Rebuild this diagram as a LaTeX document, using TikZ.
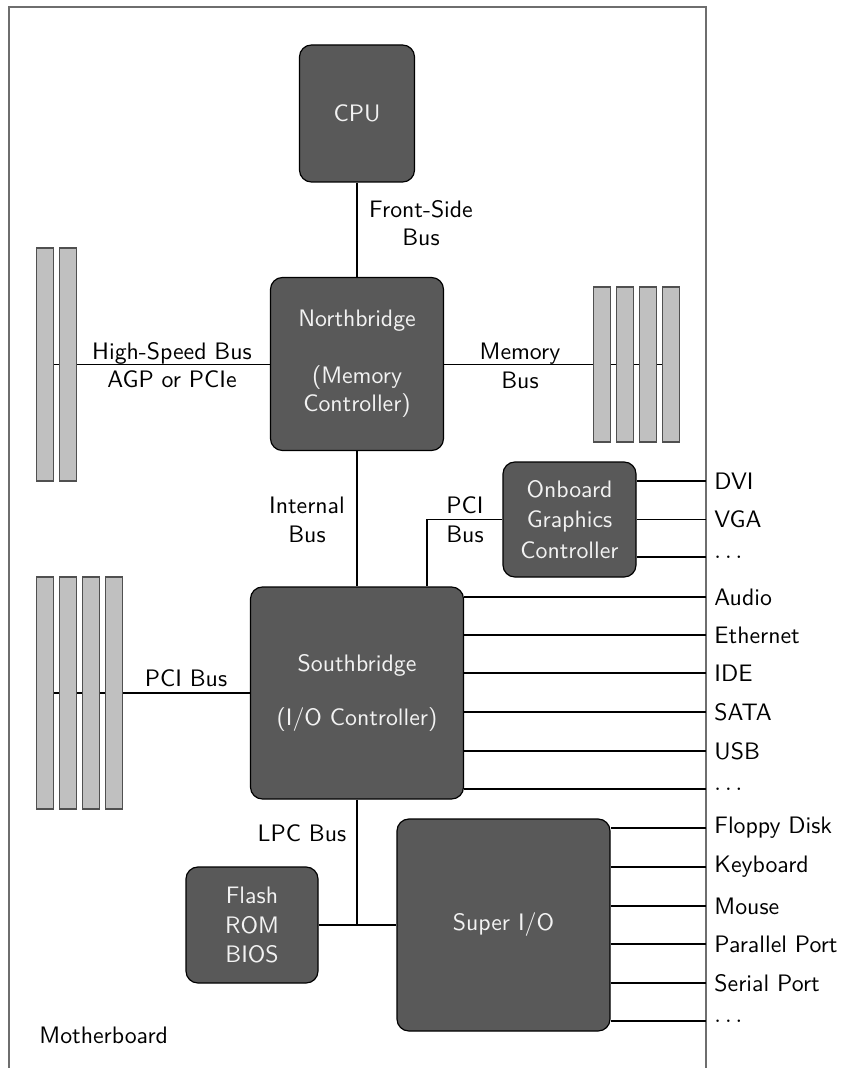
\documentclass[tikz,border=0pt]{standalone}
\usetikzlibrary{backgrounds}
\definecolor{chipgray}{HTML}{595959}
\definecolor{chiptext}{HTML}{F2F2F2}
\definecolor{slotgray}{HTML}{C0C0C0}
\definecolor{slotborder}{HTML}{505050}
\definecolor{framegray}{HTML}{6E6E6E}
\begin{document}
\begin{tikzpicture}[x=0.42pt,y=-0.42pt,
  font=\sffamily,
  chip/.style 2 args={draw=black, line width=0.5pt, fill=chipgray, rounded corners=5pt,
    text=chiptext, align=center, minimum width=#1*0.42pt, minimum height=#2*0.42pt, inner sep=0pt,
    font=\sffamily\fontsize{10}{12.8}\selectfont},
  slot/.style={draw=slotborder, line width=0.5pt, fill=slotgray, minimum width=16.5*0.42pt,
    minimum height=#1*0.42pt, inner sep=0pt},
  bus/.style={draw=black, line width=0.45pt},
  lbl/.style={align=center, inner sep=0pt, text=black},
  port/.style={anchor=west, inner sep=0pt, text=black},
  frameline/.style={draw=framegray, line width=0.55pt}]
\useasboundingbox (0,0) rectangle (845,1068);

% motherboard frame
\draw[frameline] (9,1068) -- (9,7) -- (706,7) -- (706,1068);
\node[port] (mb) at (39,1035) {Motherboard};

% chips
\node[chip={115}{137}] (cpu) at (357,113.5) {CPU};
\node[chip={173}{173}] (nb) at (357,364) {Northbridge\\[11pt](Memory\\[-1pt]Controller)};
\node[chip={133}{115}] (ogc) at (569.5,519.5) {Onboard\\Graphics\\Controller};
\node[chip={213}{212}] (sb) at (357,693) {Southbridge\\[10pt](I/O Controller)};
\node[chip={132}{116}] (flash) at (252,925) {Flash\\[-0.5pt]ROM\\[-0.5pt]BIOS};
\node[chip={213}{212}] (sio) at (503.5,925) {Super I/O};

% AGP / PCIe slots
\node[slot=233] (agp1) at (45,364.5) {};
\node[slot=233] (agp2) at (68,364.5) {};
% memory slots
\node[slot=155] (mem1) at (602,364.5) {};
\node[slot=155] (mem2) at (625,364.5) {};
\node[slot=155] (mem3) at (648,364.5) {};
\node[slot=155] (mem4) at (671,364.5) {};
% PCI slots
\node[slot=232] (pci1) at (45,693) {};
\node[slot=232] (pci2) at (68,693) {};
\node[slot=232] (pci3) at (91,693) {};
\node[slot=232] (pci4) at (114,693) {};

% bus coordinates
\coordinate (pcicorner) at (427,519.5);
\coordinate (lpcjoin) at (357,925);

\begin{scope}[on background layer]
  \draw[bus] (cpu) -- (nb);
  \draw[bus] (nb.south) -- (sb.north);
  \draw[bus] (agp1.center) -- (agp1.center -| nb.west);
  \draw[bus] (nb.east |- mem4.center) -- (mem4.center);
  \draw[bus] (pci1.center) -- (sb.west);
  \draw[bus] (ogc.west) -- (pcicorner) -- (pcicorner |- sb.north);
  \draw[bus] (sb.south) -- (lpcjoin);
  \draw[bus] (flash.east) -- (lpcjoin) -- (sio.west);
\end{scope}

% bus labels
\node[lbl] (fsbl) at (421,223) {Front-Side\\Bus};
\node[lbl] (hsbl) at (172,365) {High-Speed Bus\\AGP or PCIe};
\node[lbl] (membl) at (520,366) {Memory\\Bus};
\node[lbl] (intl) at (307,520) {Internal\\Bus};
\node[lbl] (pcigl) at (465,520) {PCI\\Bus};
\node[lbl] (pcil) at (186,678) {PCI Bus};
\node[lbl] (lpcl) at (302,833) {LPC Bus};

% graphics outputs
\foreach \y/\t/\n in {481/DVI/dvi, 519.5/VGA/vga, 557/$\ldots$/gdots}{
  \coordinate (e\n) at (706,\y);
  \draw[bus] (ogc.east |- e\n) -- (e\n);
  \node[port] (l\n) at (714,\y) {\t};
}
% southbridge outputs
\foreach \y/\t/\n in {597/Audio/audio, 635/Ethernet/eth, 673/IDE/ide, 712/SATA/sata, 751/USB/usb, 789/$\ldots$/sdots}{
  \coordinate (e\n) at (706,\y);
  \draw[bus] (sb.east |- e\n) -- (e\n);
  \node[port] (l\n) at (714,\y) {\t};
}
% super I/O outputs
\foreach \y/\t/\n in {828/Floppy Disk/fd, 867/Keyboard/kb, 906/Mouse/mouse, 944/Parallel Port/par, 983/Serial Port/ser, 1021/$\ldots$/idots}{
  \coordinate (e\n) at (706,\y);
  \draw[bus] (sio.east |- e\n) -- (e\n);
  \node[port] (l\n) at (714,\y) {\t};
}
\end{tikzpicture}
\end{document}
